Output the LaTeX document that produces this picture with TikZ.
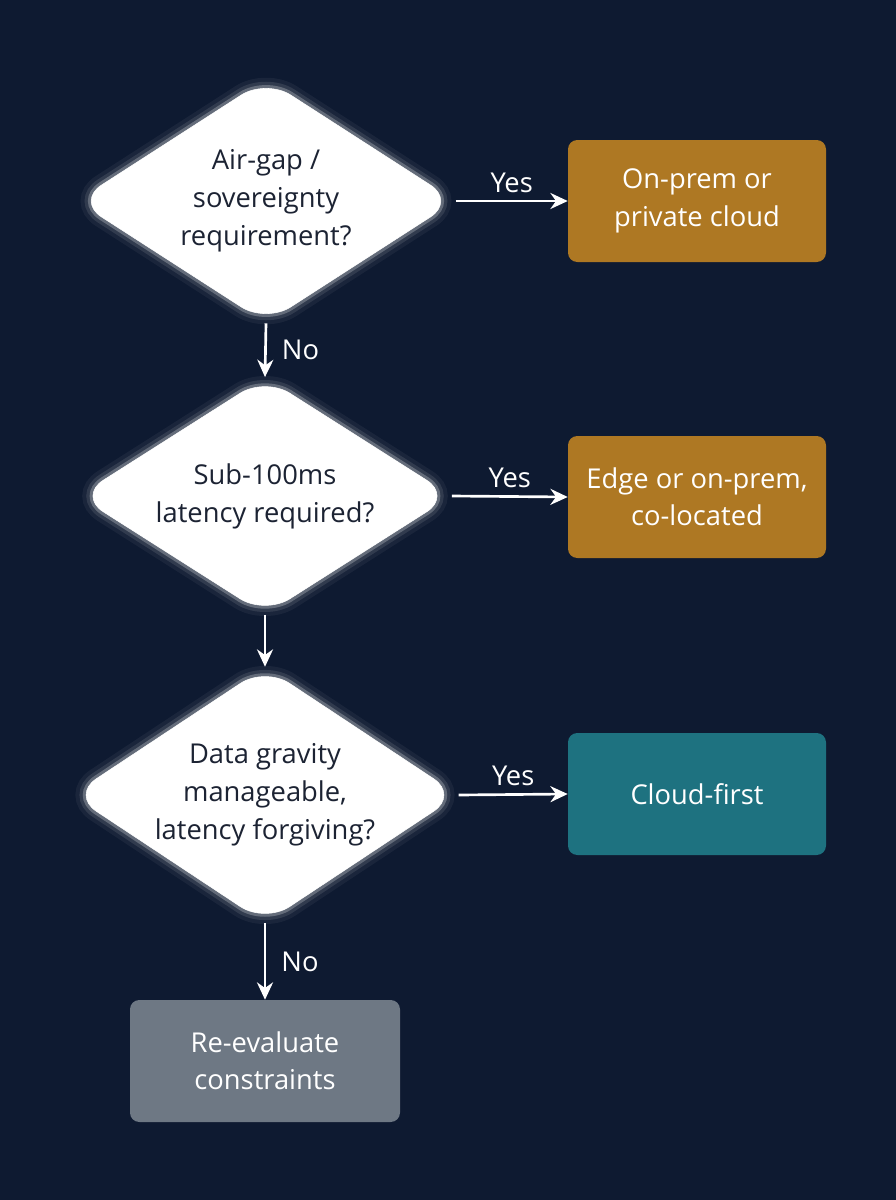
\documentclass[tikz,border=0pt]{standalone}
\usepackage{fontspec}
\setmainfont{Open Sans}
\usetikzlibrary{shapes.geometric,arrows.meta}
\definecolor{bg}{HTML}{0E1A31}
\definecolor{ochre}{HTML}{AE7823}
\definecolor{teal}{HTML}{1E7280}
\definecolor{greyb}{HTML}{6E7884}
\definecolor{dtext}{HTML}{1C2333}
\begin{document}
\begin{tikzpicture}[x=0.75pt,y=-0.75pt,
  dia/.style={diamond,fill=white,draw=white,rounded corners=22pt,inner sep=0pt,
    preaction={draw=white,line width=16pt,opacity=0.05},
    preaction={draw=white,line width=10pt,opacity=0.10},
    preaction={draw=white,line width=5pt,opacity=0.25}},
  dtx/.style={text=dtext,align=center,font=\fontsize{20.5}{28.5}\selectfont},
  box/.style={rounded corners=7pt,minimum width=193.5pt,minimum height=91.5pt,
    text=white,align=center,font=\fontsize{20.5}{28}\selectfont,inner sep=0pt},
  arr/.style={white,line width=2pt,-{Stealth[length=13pt,width=12pt]}},
  lab/.style={text=white,font=\fontsize{20.5}{24}\selectfont}]
\fill[bg] (0,0) rectangle (896,1200);
\useasboundingbox (0,0) rectangle (896,1200);
\node[dia,minimum width=284pt,minimum height=183pt] (d1) at (266,201) {};
\node[dtx] (t1) at (266,201) {Air-gap /\\sovereignty\\requirement?};
\node[dia,minimum width=280pt,minimum height=178pt] (d2) at (265,496) {};
\node[dtx] (t2) at (265,496) {Sub-100ms\\latency required?};
\node[dia,minimum width=290pt,minimum height=192pt] (d3) at (265,795) {};
\node[dtx] (t3) at (265,795) {Data gravity\\manageable,\\latency forgiving?};
\node[box,fill=ochre] (b1) at (697,201) {On-prem or\\private cloud};
\node[box,fill=ochre] (b2) at (697,497) {Edge or on-prem,\\co-located};
\node[box,fill=teal] (b3) at (697,794) {Cloud-first};
\node[box,fill=greyb,minimum width=202.5pt] (b4) at (265,1061) {Re-evaluate\\constraints};
\draw[arr] (d1.east) -- (b1.west) node[lab,midway,above=2pt] {Yes};
\draw[arr] (d2.east) -- (b2.west) node[lab,midway,above=2pt] {Yes};
\draw[arr] (d3.east) -- (b3.west) node[lab,midway,above=2pt] {Yes};
\draw[arr] (d1.south) -- (d2.north) node[lab,midway,right=8pt] {No};
\draw[arr] (d2.south) -- (d3.north);
\draw[arr] (d3.south) -- (b4.north) node[lab,midway,right=8pt] {No};
\end{tikzpicture}
\end{document}
